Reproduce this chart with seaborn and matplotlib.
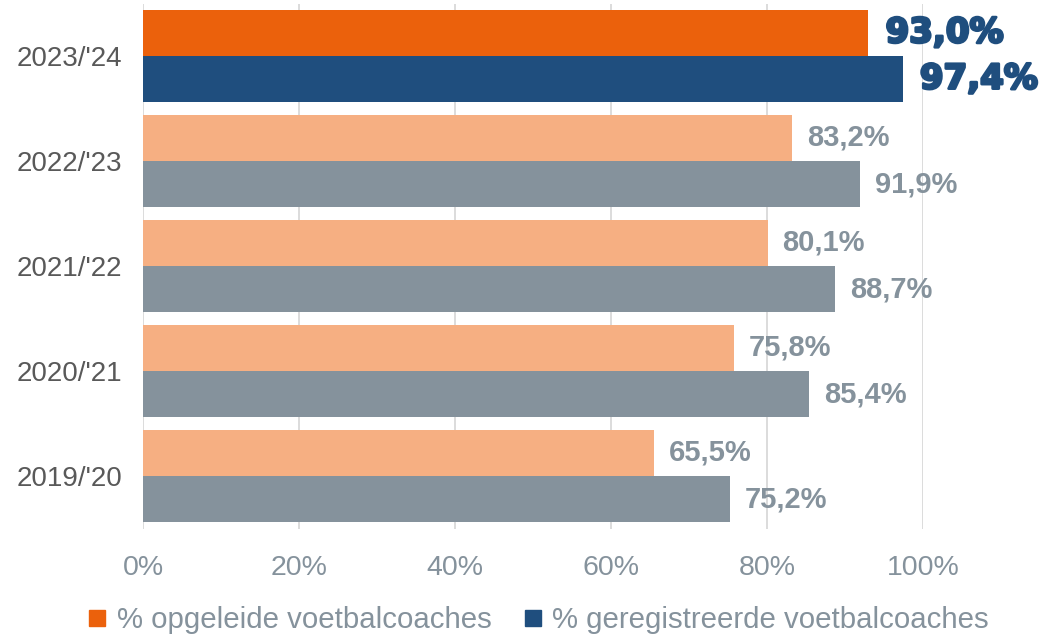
import pandas as pd
import seaborn as sns
import matplotlib.pyplot as plt
import matplotlib.patheffects as pe
from matplotlib.lines import Line2D

seasons = ["2023/'24", "2022/'23", "2021/'22", "2020/'21", "2019/'20"]
opgeleid = [93.0, 83.2, 80.1, 75.8, 65.5]
geregistreerd = [97.4, 91.9, 88.7, 85.4, 75.2]
series = ['% opgeleide voetbalcoaches', '% geregistreerde voetbalcoaches']
xticks = [0, 20, 40, 60, 80, 100]

dark = ['#EB610C', '#1F4E7E']
light = ['#F6AF82', '#85929C']
label_grey = '#85929C'

df = pd.DataFrame({
    'season': seasons * 2,
    'value': opgeleid + geregistreerd,
    'serie': [series[0]] * 5 + [series[1]] * 5,
})

sns.set_style('white')
plt.rcParams['font.family'] = ['Liberation Sans', 'DejaVu Sans']

fig = plt.figure(figsize=(10.55, 6.36), dpi=100)
ax = fig.add_axes([143 / 1055, 1 - 528.5 / 636, 780 / 1055, 525 / 636])

sns.barplot(data=df, y='season', x='value', hue='serie', order=seasons,
            hue_order=series, palette=dark, orient='h', width=0.88,
            saturation=1, ax=ax, legend=False)

for k, cont in enumerate(ax.containers):
    for i, bar in enumerate(cont):
        bar.set_edgecolor('none')
        val = bar.get_width()
        yc = bar.get_y() + bar.get_height() / 2
        txt = f'{val:.1f}%'.replace('.', ',')
        if i == 0:
            ax.text(val + 2.2, yc, txt, va='center', ha='left', color=dark[1],
                    fontsize=24.5, fontweight='heavy', family='DejaVu Sans',
                    clip_on=False,
                    path_effects=[pe.withStroke(linewidth=2, foreground=dark[1])])
        else:
            bar.set_facecolor(light[k])
            ax.text(val + 1.9, yc, txt, va='center', ha='left', color=label_grey,
                    fontsize=21, fontweight='bold', clip_on=False)

ax.set_xlim(0, 100)
ax.set_ylim(4.5, -0.5)
ax.set_xticks(xticks)
ax.set_xticklabels([f'{t}%' for t in xticks])
ax.xaxis.grid(True, color='#D9D9D9', linewidth=1.3)
ax.set_axisbelow(True)
ax.tick_params(axis='x', length=0, pad=19, labelsize=20.5, labelcolor=label_grey)
ax.tick_params(axis='y', length=0, pad=15, labelsize=20, labelcolor='#595959')
ax.set_xlabel('')
ax.set_ylabel('')
for s in ax.spines.values():
    s.set_visible(False)

handles = [Line2D([], [], marker='s', linestyle='none', markersize=12,
                  markerfacecolor=c, markeredgecolor=c) for c in dark]
fig.legend(handles, series, loc='center', bbox_to_anchor=(0.509, 1 - 620 / 636),
           ncol=2, frameon=False, fontsize=21.2, labelcolor=label_grey,
           handletextpad=0.25, columnspacing=1.0, handlelength=0.8)

fig.savefig('out.png', dpi=100)
